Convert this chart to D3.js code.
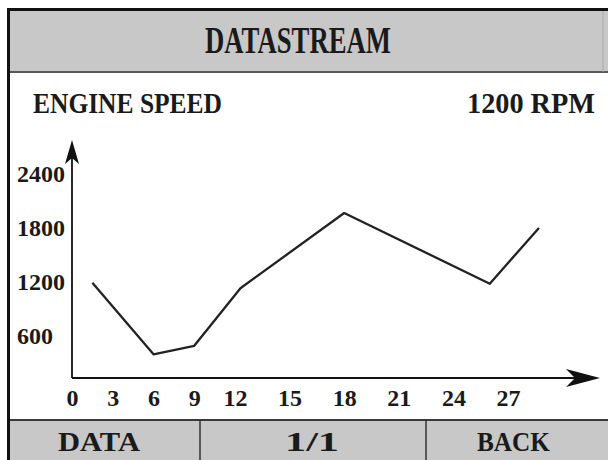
<!DOCTYPE html>
<html>
<head>
<meta charset="utf-8">
<script src="https://cdn.jsdelivr.net/npm/d3@7"></script>
<style>
  body { margin: 0; background: #fff; }
  text { font-family: "Liberation Serif", serif; font-weight: bold; fill: #1a1a1a; }
</style>
</head>
<body>
<svg id="screen" width="608" height="460"></svg>
<script>
// data
var times = [1.5, 6, 9, 12.3, 18, 26, 28.7];
var rpm = [1180, 385, 480, 1120, 1955, 1170, 1790];
var xTicks = [0, 3, 6, 9, 12, 15, 18, 21, 24, 27];
var yTicks = [600, 1200, 1800, 2400];
var title = "DATASTREAM";
var paramName = "ENGINE SPEED";
var paramValue = "1200 RPM";
var buttons = ["DATA", "1/1", "BACK"];

var svg = d3.select("#screen");

// frame
svg.append("rect").attr("x", 10).attr("y", 11).attr("width", 598).attr("height", 61).attr("fill", "#c8c8c8");
svg.append("rect").attr("x", 10).attr("y", 420).attr("width", 598).attr("height", 40).attr("fill", "#c8c8c8");
svg.append("line").attr("x1", 10).attr("x2", 608).attr("y1", 72).attr("y2", 72)
    .attr("stroke", "#5a5a5a").attr("stroke-width", 2);
svg.append("line").attr("x1", 10).attr("x2", 608).attr("y1", 420).attr("y2", 420)
    .attr("stroke", "#3a3a3a").attr("stroke-width", 2);
svg.append("line").attr("x1", 603).attr("x2", 603).attr("y1", 11).attr("y2", 72)
    .attr("stroke", "#aaa").attr("stroke-width", 1);
svg.append("rect").attr("x", 7).attr("y", 8).attr("width", 601).attr("height", 3).attr("fill", "#111");
svg.append("rect").attr("x", 7).attr("y", 8).attr("width", 3).attr("height", 452).attr("fill", "#111");

svg.append("text").attr("x", 298).attr("y", 53).attr("text-anchor", "middle")
    .style("font-size", "37px").attr("textLength", 186).attr("lengthAdjust", "spacingAndGlyphs")
    .text(title);
svg.append("text").attr("x", 33).attr("y", 113)
    .style("font-size", "30px").attr("textLength", 189).attr("lengthAdjust", "spacingAndGlyphs")
    .text(paramName);
svg.append("text").attr("x", 467).attr("y", 113)
    .style("font-size", "30px").attr("textLength", 128).attr("lengthAdjust", "spacingAndGlyphs")
    .text(paramValue);

// footer buttons
var btnEdges = [10, 200, 426, 603];
var btnWidths = [82, 54, 73];
buttons.forEach(function(b, i) {
    if (i > 0) {
        svg.append("line").attr("x1", btnEdges[i]).attr("x2", btnEdges[i])
            .attr("y1", 420).attr("y2", 460).attr("stroke", "#333").attr("stroke-width", 1.5);
    }
    svg.append("text").attr("x", (btnEdges[i] + btnEdges[i + 1]) / 2 - (i == 0 ? 6 : 1)).attr("y", 451)
        .attr("text-anchor", "middle").style("font-size", "28px")
        .attr("textLength", btnWidths[i]).attr("lengthAdjust", "spacingAndGlyphs")
        .text(b);
});

// scales: the device axis is spaced tighter below 12
var x = d3.scaleLinear().domain([0, 12, 27]).range([72, 235, 508]);
var y = d3.scaleLinear().domain([0, 2400]).range([389, 173]);
var axisY = 378, axisX = 72;

// axes lines with arrow heads
svg.append("line").attr("x1", axisX).attr("x2", axisX).attr("y1", axisY).attr("y2", 150)
    .attr("stroke", "#111").attr("stroke-width", 1.8);
svg.append("line").attr("x1", axisX).attr("x2", 592).attr("y1", axisY).attr("y2", axisY)
    .attr("stroke", "#111").attr("stroke-width", 1.8);
svg.append("path")
    .attr("d", "M" + axisX + ",140 L" + (axisX + 7) + ",164 L" + axisX + ",158 L" + (axisX - 7) + ",164 Z")
    .attr("fill", "#111");
svg.append("path")
    .attr("d", "M600," + axisY + " L566," + (axisY - 9) + " L575," + axisY + " L566," + (axisY + 9) + " Z")
    .attr("fill", "#111");

svg.append("g")
    .attr("transform", "translate(0," + axisY + ")")
    .call(d3.axisBottom(x).tickValues(xTicks).tickSize(0))
    .call(function(g) { g.select(".domain").remove(); })
    .selectAll("text")
    .attr("y", 28).attr("dy", 0)
    .style("font-size", "24px").style("font-family", "Liberation Serif").style("font-weight", "bold")
    .attr("fill", "#1a1a1a");

svg.append("g")
    .attr("transform", "translate(" + axisX + ",0)")
    .call(d3.axisLeft(y).tickValues(yTicks).tickSize(0).tickFormat(d3.format("d")))
    .call(function(g) { g.select(".domain").remove(); })
    .selectAll("text")
    .attr("x", 17 - axisX).attr("dy", "0.34em")
    .attr("text-anchor", "start")
    .style("font-size", "24px").style("font-family", "Liberation Serif").style("font-weight", "bold")
    .attr("fill", "#1a1a1a");

// the trace
var line = d3.line()
    .x(function(d, i) { return x(times[i]); })
    .y(function(d) { return y(d); });

svg.append("path")
    .datum(rpm)
    .attr("d", line)
    .attr("fill", "none")
    .attr("stroke", "#222")
    .attr("stroke-width", 2.3)
    .attr("stroke-linejoin", "round");
</script>
</body>
</html>
